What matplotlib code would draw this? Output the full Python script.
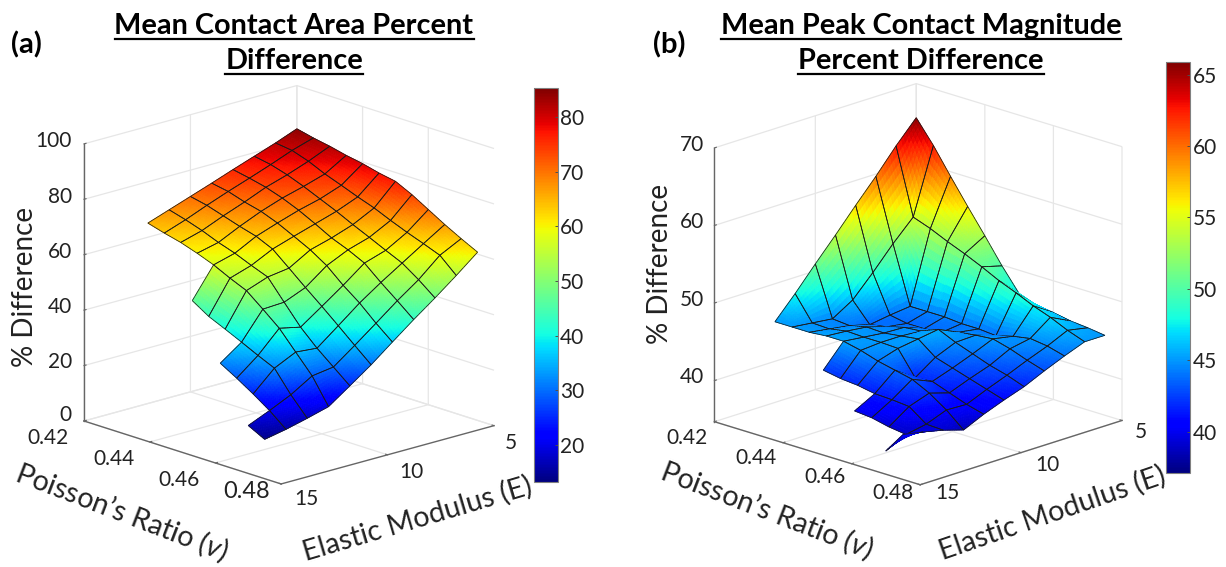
import numpy as np
import matplotlib
matplotlib.use("Agg")
import matplotlib.pyplot as plt
from matplotlib.colors import Normalize
from matplotlib.cm import ScalarMappable
from matplotlib.lines import Line2D
from mpl_toolkits.mplot3d import proj3d
from mpl_toolkits.mplot3d.art3d import Poly3DCollection

plt.rcParams['font.family'] = ['Lato', 'DejaVu Sans']
plt.rcParams['mathtext.fontset'] = 'custom'
plt.rcParams['mathtext.rm'] = 'Lato'
plt.rcParams['mathtext.it'] = 'Lato:italic'
plt.rcParams['mathtext.bf'] = 'Lato:bold'

W, H = 1226, 567

modulus = [5, 6, 7, 8, 9, 10, 11, 12, 13, 14, 15]
poisson = [0.42, 0.425, 0.43, 0.435, 0.44, 0.445, 0.45, 0.455, 0.46, 0.465, 0.47, 0.475, 0.48]

# one row per Poisson's ratio, one column per elastic modulus
area_rows = [
    [84.4, 81.4, 78.7, 76.0, 73.2, 70.5, 67.8, 65.1],
    [83.0, 80.6, 77.6, 74.8, 72.1, 69.2, 66.1, 63.4],
    [81.9, 78.6, 75.8, 73.4, 70.2, 67.3, 64.1, 61.9],
    [80.5, 75.9, 73.5, 71.4, 68.7, 65.4, 61.7, 59.9],
    [79.4, 73.7, 70.9, 68.9, 66.4, 63.7, 59.7, 57.6, 46.8],
    [77.9, 71.4, 68.3, 65.9, 63.5, 61.0, 57.2, 54.7, 43.0],
    [76.8, 69.3, 65.4, 62.7, 60.5, 56.0, 54.9, 52.1, 40.3],
    [73.9, 66.7, 62.7, 60.3, 56.7, 50.9, 47.7, 47.3, 37.5, 32.0],
    [70.4, 64.3, 59.9, 57.4, 51.5, 46.0, 40.6, 42.3, 34.6, 28.5],
    [66.9, 62.1, 57.2, 52.3, 47.0, 40.9, 34.9, 35.6, 31.9, 24.7],
    [63.7, 59.8, 53.1, 47.6, 41.6, 35.7, 30.0, 28.9, 24.2, 20.6, 17.3],
    [60.7, 54.4, 48.4, 42.7, 36.7, 30.6, 25.1, 19.7, 17.6, 15.7, 14.2],
    [],
]
peak_rows = [
    [65.6, 62.8, 59.7, 56.8, 53.8, 50.9, 47.9, 45.1],
    [62.7, 54.3, 51.7, 48.8, 46.1, 44.5, 44.8, 45.1],
    [59.4, 53.5, 44.3, 44.0, 43.6, 44.3, 44.7, 45.1],
    [56.2, 52.5, 44.3, 43.6, 44.0, 44.8, 45.1, 45.3],
    [53.1, 51.6, 44.3, 43.6, 44.6, 44.7, 45.0, 45.3, 42.4],
    [49.9, 50.6, 44.1, 43.8, 44.8, 45.0, 45.0, 44.8, 42.0],
    [47.0, 49.5, 44.1, 44.5, 45.7, 45.3, 44.9, 44.1, 41.8],
    [46.2, 48.6, 43.9, 44.8, 44.7, 43.6, 41.8, 43.6, 41.4, 40.0],
    [45.9, 47.6, 44.5, 45.0, 43.9, 42.9, 42.0, 43.1, 41.3, 39.8],
    [45.5, 46.8, 44.9, 44.4, 43.1, 42.2, 41.2, 42.0, 41.1, 39.3],
    [45.3, 45.8, 44.6, 43.6, 42.5, 41.5, 40.4, 40.5, 39.5, 39.0, 37.7],
    [45.0, 45.0, 44.0, 42.9, 41.7, 40.8, 39.8, 38.6, 39.4, 40.0, 40.5],
    [],
]

modulus_ticks = [5, 10, 15]
poisson_ticks = [0.42, 0.44, 0.46, 0.48]
area_ticks = [0, 20, 40, 60, 80, 100]
peak_ticks = [40, 50, 60, 70]
area_cbar_ticks = [20, 30, 40, 50, 60, 70, 80]
peak_cbar_ticks = [40, 45, 50, 55, 60, 65]


def grid_of(rows):
    out = np.full((len(poisson), len(modulus)), np.nan)
    for k, r in enumerate(rows):
        out[k, :len(r)] = r
    return out


def add_surface(ax, Z, lo, hi, zlim, n=9):
    X, Y = np.meshgrid(modulus, poisson)
    cmap = plt.get_cmap('jet')
    norm = Normalize(lo, hi)
    el, az = np.radians(ax.elev), np.radians(ax.azim)
    eps = 0.02
    cam = np.array([np.cos(el) * np.cos(az) * (modulus[-1] - modulus[0]),
                    np.cos(el) * np.sin(az) * (poisson[-1] - poisson[0]),
                    np.sin(el) * (zlim[1] - zlim[0])]) * eps
    polys, fc, ec = [], [], []
    t = np.linspace(0, 1, n + 1)
    for p in range(Z.shape[0] - 1):
        for q in range(Z.shape[1] - 1):
            zc = Z[p:p + 2, q:q + 2]
            if np.isnan(zc).any():
                continue
            xc, yc = X[p:p + 2, q:q + 2], Y[p:p + 2, q:q + 2]

            def lerp(c, a, b):
                return ((1 - a) * (1 - b) * c[0, 0] + a * (1 - b) * c[1, 0]
                        + (1 - a) * b * c[0, 1] + a * b * c[1, 1])

            def pt(a, b):
                return np.array([lerp(xc, a, b), lerp(yc, a, b), lerp(zc, a, b)])

            for ia in range(n):
                for ib in range(n):
                    v = [pt(t[ia], t[ib]), pt(t[ia + 1], t[ib]),
                         pt(t[ia + 1], t[ib + 1]), pt(t[ia], t[ib + 1])]
                    col = cmap(norm(np.mean([u[2] for u in v])))
                    polys.append(v)
                    fc.append(col)
                    ec.append(col)
            for ia in range(n):
                for a0, b0, a1, b1 in [(t[ia], 0, t[ia + 1], 0), (t[ia], 1, t[ia + 1], 1),
                                       (0, t[ia], 0, t[ia + 1]), (1, t[ia], 1, t[ia + 1])]:
                    s0, s1 = pt(a0, b0) + cam, pt(a1, b1) + cam
                    polys.append([s0, s1, s1, s0])
                    fc.append((0, 0, 0, 0))
                    ec.append((0.1, 0.1, 0.1, 1))
    coll = Poly3DCollection(polys, facecolors=fc, edgecolors=ec, linewidths=0.55)
    ax.add_collection3d(coll)


def style_axes(ax):
    ax.patch.set_alpha(0)
    for a in (ax.xaxis, ax.yaxis, ax.zaxis):
        a.pane.fill = False
        a.pane.set_edgecolor((1, 1, 1, 0))
        a.line.set_color('0.4')
        a.line.set_linewidth(1.0)
        a._axinfo['grid'].update(color=(0.9, 0.9, 0.9, 1), linewidth=0.9)
        a._axinfo['tick'].update(inward_factor=0.0, outward_factor=0.12,
                                 linewidth={True: 0.8, False: 0.8})
        a.set_tick_params(color='0.4')


def fit(ax, zlim, left, right):
    """Scale and shift the axes box so the cube's corners land where they should."""
    cx, cy, S = (left[0] + right[0]) / 2, H - 270.0, 480.0
    for _ in range(4):
        ax.set_position([(cx - S / 2) / W, (cy - S / 2) / H, S / W, S / H])
        ax.apply_aspect()
        xs, ys, _z = proj3d.proj_transform(np.array([15.0, 5.0]), np.array([0.42, 0.48]),
                                           np.array([zlim[0], zlim[0]]), ax.get_proj())
        pix = ax.transData.transform(np.c_[xs, ys])
        k = (right[0] - left[0]) / (pix[1, 0] - pix[0, 0])
        S *= k
        cx += left[0] - (pix[0, 0] - cx) * k - cx
        cy += (H - left[1]) - (pix[0, 1] - cy) * k - cy
    ax.set_position([(cx - S / 2) / W, (cy - S / 2) / H, S / W, S / H])


def txt(x, y, s, **kw):
    kw.setdefault('ha', 'center')
    kw.setdefault('va', 'center')
    kw.setdefault('color', '#222222')
    return fig.text(x / W, 1 - y / H, s, **kw)


def panel(Z, zlim, zticks, el, az, left, right, lo, hi, cbar_box, cbar_ticks, grid_nu):
    ax = fig.add_subplot(projection='3d', proj_type='ortho')
    ax.view_init(elev=el, azim=az)
    ax.set_box_aspect((1, 1, 1))
    ax.set_xlim(modulus[0], modulus[-1])
    ax.set_ylim(poisson[0], poisson[-1])
    ax.set_zlim(*zlim)
    ax.set_xticks(modulus_ticks)
    ax.set_yticks(grid_nu)
    ax.set_zticks(zticks)
    ax.set_xticklabels([''] * len(modulus_ticks))
    ax.set_yticklabels([''] * len(grid_nu))
    ax.set_zticklabels([''] * len(zticks))
    style_axes(ax)
    add_surface(ax, Z, lo, hi, zlim)
    fit(ax, zlim, left, right)

    x0, y0, x1, y1 = cbar_box
    cax = fig.add_axes([x0 / W, 1 - y1 / H, (x1 - x0) / W, (y1 - y0) / H])
    cb = fig.colorbar(ScalarMappable(Normalize(lo, hi), 'jet'), cax=cax, ticks=cbar_ticks)
    cb.outline.set_edgecolor('0.5')
    cb.outline.set_linewidth(0.8)
    cax.tick_params(direction='in', length=2.5, width=0.7, color='0.3', pad=2,
                    labelsize=15, labelcolor='#222222', right=True)
    return ax


fig = plt.figure(figsize=(W / 100, H / 100), dpi=100)

z_area, z_peak = grid_of(area_rows), grid_of(peak_rows)
panel(z_area, (0, 100), area_ticks, 17.2, 47.2, (84, 421), (494, 426), 13.2, 85.3,
      (533.5, 88, 557.5, 482), area_cbar_ticks, poisson_ticks[:-1])
panel(z_peak, (34.7, 70), peak_ticks, 18.2, 44.45, (714.4, 421.7), (1122, 421), 37.1, 65.9,
      (1165.7, 61.7, 1190, 473), peak_cbar_ticks, poisson_ticks)

TICK = 15
# panel (a) tick labels
for s, (x, y, fs) in zip(['%.2f' % v for v in poisson_ticks],
                         [(48, 438, TICK), (114, 459, TICK), (179, 480, TICK), (247, 492, 17)]):
    txt(x, y, s, fontsize=fs)
for s, (x, y) in zip(modulus_ticks, [(511, 443), (411, 472), (306, 499)]):
    txt(x, y, str(s), fontsize=TICK)
for s, y in zip(area_ticks, [415, 362, 307, 252, 197, 141]):
    txt(72, y, str(s), fontsize=TICK, ha='right')
# panel (b) tick labels
for s, (x, y) in zip(['%.2f' % v for v in poisson_ticks],
                     [(687, 438), (756, 458), (825, 477), (893, 493)]):
    txt(x, y, s, fontsize=TICK)
for s, (x, y) in zip(modulus_ticks, [(1141, 432), (1047, 465), (947, 493)]):
    txt(x, y, str(s), fontsize=TICK)
for s, y in zip(peak_ticks, [377, 300, 222, 145]):
    txt(704, y, str(s), fontsize=TICK, ha='right')

LAB = 20
txt(25, 287, '% Difference', fontsize=LAB, rotation=90)
txt(660, 264, '% Difference', fontsize=LAB, rotation=90)
POIS = 'Poisson’s Ratio ($\\mathit{v}$)'
ROT = 20.6
txt(122, 512, POIS, fontsize=ROT, rotation=-21, rotation_mode='anchor')
txt(767, 510, POIS, fontsize=ROT, rotation=-21, rotation_mode='anchor')
txt(417, 519, 'Elastic Modulus (E)', fontsize=ROT, rotation=16.5, rotation_mode='anchor')
txt(1052, 513, 'Elastic Modulus (E)', fontsize=ROT, rotation=19, rotation_mode='anchor')

TITLE = 20.8
titles = [(294, 26, 'Mean Contact Area Percent'), (294, 61, 'Difference'),
          (921, 26, 'Mean Peak Contact Magnitude'), (921, 61, 'Percent Difference')]
rend = fig.canvas.get_renderer()
for x, y, s in titles:
    t = txt(x, y, s, fontsize=TITLE, fontweight='bold', color='black')
    bb = t.get_window_extent(rend)
    yy = 1 - (y + 13) / H
    fig.add_artist(Line2D([bb.x0 / W, bb.x1 / W], [yy, yy], color='black', lw=1.6,
                          transform=fig.transFigure))
txt(26, 45, '(a)', fontsize=21, fontweight='bold', color='black')
txt(669, 45, '(b)', fontsize=21, fontweight='bold', color='black')

fig.savefig('out.png', dpi=100)
